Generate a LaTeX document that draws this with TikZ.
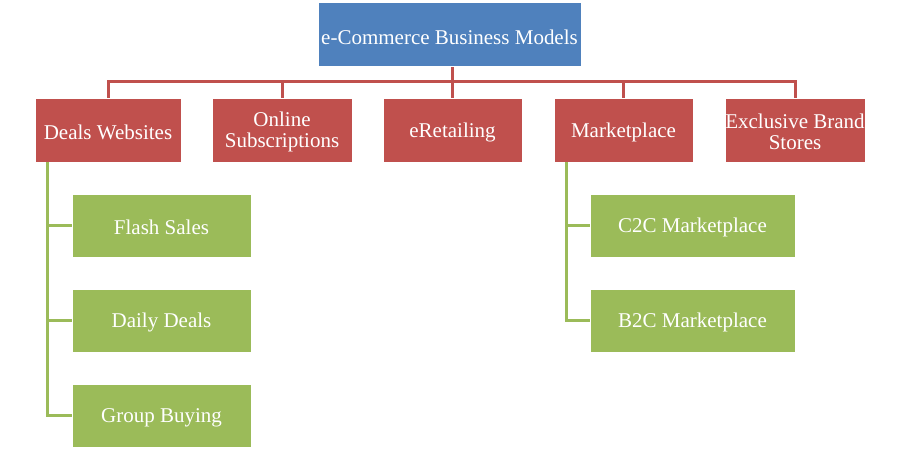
\documentclass[tikz,border=0pt]{standalone}
\usepackage{fontspec}
\setmainfont{Liberation Serif}
\definecolor{cblue}{HTML}{4F81BD}
\definecolor{cred}{HTML}{C0504D}
\definecolor{cgreen}{HTML}{9BBB59}
\begin{document}
\begin{tikzpicture}[x=1pt,y=-1pt,
  box/.style={draw=white,line width=1pt,inner sep=0pt},
  txt/.style={text=white,align=center,inner sep=0pt,yshift=-2pt,
    font=\fontsize{21}{21}\selectfont},
  bluebox/.style={box,fill=cblue,minimum width=263pt,minimum height=64pt},
  redbox/.style={box,fill=cred,minimum width=140pt,minimum height=64pt},
  greenbox/.style={box,fill=cgreen,minimum height=63pt},
  redline/.style={draw=cred,line width=3pt},
  greenline/.style={draw=cgreen,line width=3pt}]
\useasboundingbox[fill=white] (0,0) rectangle (900,460);
\node[bluebox] (top) at (449.5,35) {};
\node[redbox,minimum width=146pt] (deals) at (108,130) {};
\node[redbox] (online) at (282,130) {};
\node[redbox,minimum width=139pt] (eret) at (452.5,130) {};
\node[redbox,minimum width=139pt] (market) at (623.5,130) {};
\node[redbox] (excl) at (795,130) {};
\node[greenbox,minimum width=179pt] (flash) at (161.5,225.5) {};
\node[greenbox,minimum width=179pt] (daily) at (161.5,320.5) {};
\node[greenbox,minimum width=179pt] (group) at (161.5,415.5) {};
\node[greenbox,minimum width=205pt] (c2c) at (692.5,225.5) {};
\node[greenbox,minimum width=205pt] (b2c) at (692.5,320.5) {};
\node[txt] (ttop) at (top.center) {e-Commerce Business Models};
\node[txt] (tdeals) at (deals.center) {Deals Websites};
\node[txt] (tonline) at (online.center) {Online\\Subscriptions};
\node[txt] (teret) at (eret.center) {eRetailing};
\node[txt] (tmarket) at (market.center) {Marketplace};
\node[txt] (texcl) at (excl.center) {Exclusive Brand\\Stores};
\node[txt] (tflash) at (flash.center) {Flash Sales};
\node[txt] (tdaily) at (daily.center) {Daily Deals};
\node[txt] (tgroup) at (group.center) {Group Buying};
\node[txt] (tc2c) at (c2c.center) {C2C Marketplace};
\node[txt] (tb2c) at (b2c.center) {B2C Marketplace};
\coordinate (bus) at (452,82);
\draw[redline] (top.south -| bus) -- (bus);
\foreach \n in {deals,online,eret,market,excl}
  \draw[redline] (bus) -| ([yshift=-0.5pt]\n.north);
\foreach \n in {flash,daily,group}
  \draw[greenline] ([xshift=13pt,yshift=0.5pt]deals.south west) |- (\n.west);
\foreach \n in {c2c,b2c}
  \draw[greenline] ([xshift=13pt,yshift=0.5pt]market.south west) |- (\n.west);
\end{tikzpicture}
\end{document}
